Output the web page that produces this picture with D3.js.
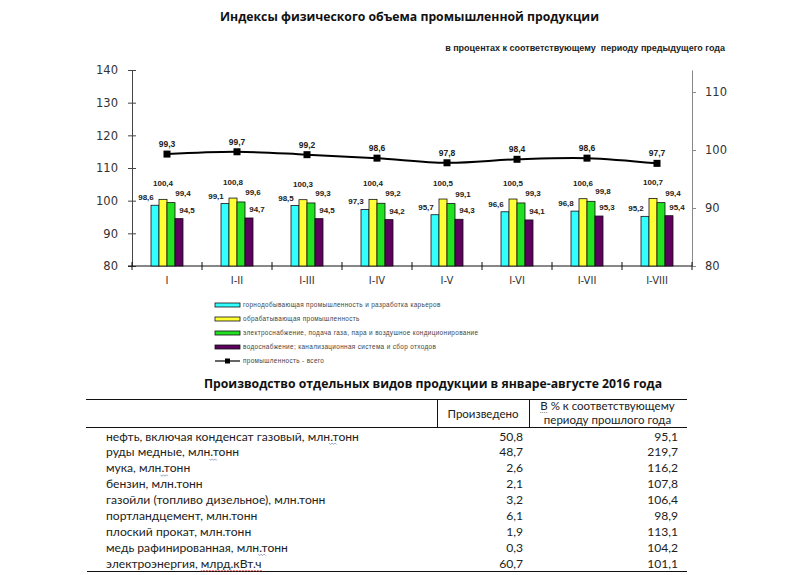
<!DOCTYPE html>
<html><head><meta charset="utf-8">
<script src="https://cdn.jsdelivr.net/npm/d3@7"></script>
<style>body{margin:0;background:#fff}svg{display:block}</style>
</head><body>
<script>
// ---- data ----
const categories = ["I","I-II","I-III","I-IV","I-V","I-VI","I-VII","I-VIII"];
const mining      = [98.6, 99.1, 98.5, 97.3, 95.7, 96.6, 96.8, 95.2];
const manufacturing = [100.4, 100.8, 100.3, 100.4, 100.5, 100.5, 100.6, 100.7];
const energy      = [99.4, 99.6, 99.3, 99.2, 99.1, 99.3, 99.8, 99.4];
const water       = [94.5, 94.7, 94.5, 94.2, 94.3, 94.1, 95.3, 95.4];
const total       = [99.3, 99.7, 99.2, 98.6, 97.8, 98.4, 98.6, 97.7];
const leftTicks = [80, 90, 100, 110, 120, 130, 140];
const rightTicks = [80, 90, 100, 110];
const legendLabels = [
  "горнодобывающая промышленность и разработка карьеров",
  "обрабатывающая промышленность",
  "электроснабжение, подача газа, пара и воздушное кондиционирование",
  "водоснабжение; канализационная система и сбор отходов",
  "промышленность - всего"
];
const products = [
  "нефть, включая конденсат газовый, млн.тонн",
  "руды медные, млн.тонн",
  "мука, млн.тонн",
  "бензин, млн.тонн",
  "газойли (топливо дизельное), млн.тонн",
  "портландцемент, млн.тонн",
  "плоский прокат, млн.тонн",
  "медь рафинированная, млн.тонн",
  "электроэнергия, млрд.кВт.ч"
];
const produced = [50.8, 48.7, 2.6, 2.1, 3.2, 6.1, 1.9, 0.3, 60.7];
const percentPrev = [95.1, 219.7, 116.2, 107.8, 106.4, 98.9, 113.1, 104.2, 101.1];

// ---- styles ----
const barColors = ["#33FFFF", "#FFFF33", "#22E022", "#5E005E"];
const fmt = v => d3.format(".1f")(v).replace(".", ",");

const svg = d3.select("body").append("svg").attr("width", 800).attr("height", 575);
svg.append("rect").attr("width", 800).attr("height", 575).attr("fill", "#fff");

// scale a text's font size so that its rendered width matches a target width
function fitWidth(sel, target) {
  const node = sel.node();
  const cur = parseFloat(sel.style("font-size"));
  const w = node.getComputedTextLength();
  if (w > 0) sel.style("font-size", (cur * target / w).toFixed(2) + "px");
  return cur * target / w;
}

const t1 = svg.append("text").attr("x", 409.5).attr("y", 21).attr("text-anchor", "middle")
  .style("font-family", "'Open Sans'").style("font-weight", "bold").style("font-size", "12.4px")
  .attr("fill", "#111").text("Индексы физического объема промышленной продукции");
fitWidth(t1, 379);
const st = svg.append("text").attr("x", 725).attr("y", 51).attr("text-anchor", "end")
  .style("font-family", "'Liberation Sans'").style("font-weight", "bold").style("font-size", "9px")
  .style("white-space", "pre").attr("fill", "#222")
  .text("в процентах к соответствующему  периоду предыдущего года");
fitWidth(st, 280);

// ---- scales ----
const x = d3.scaleBand().domain(categories).range([132, 692]);
const yL = d3.scaleLinear().domain([80, 140]).range([266, 70]);
const yR = d3.scaleLinear().domain([80, 113.8]).range([266, 70]);
const bw = 8;
const series = [mining, manufacturing, energy, water];
const labelOff = [[-9, -8], [0, -16], [12, -10], [8, -9]];

const axisFont = g => g.selectAll("text").style("font-family", "'DejaVu Sans'").style("font-size", "11.5px").attr("fill", "#333");

// left axis
const gL = svg.append("g").attr("transform", "translate(132,0)")
  .call(d3.axisLeft(yL).tickValues(leftTicks).tickSizeInner(4).tickSizeOuter(0).tickPadding(10));
gL.select(".domain").attr("stroke", "#444");
gL.selectAll(".tick line").attr("stroke", "#444").attr("x2", 4).attr("x1", -4);
axisFont(gL);
// right axis
const gR = svg.append("g").attr("transform", "translate(692,0)")
  .call(d3.axisRight(yR).tickValues(rightTicks).tickSizeInner(4).tickSizeOuter(0).tickPadding(9));
gR.select(".domain").attr("stroke", "#888");
gR.selectAll(".tick line").attr("stroke", "#888");
axisFont(gR);
// x axis
const gX = svg.append("g").attr("transform", "translate(0,266)")
  .call(d3.axisBottom(x).tickSize(0).tickPadding(11));
gX.select(".domain").attr("stroke", "#111").attr("d", "M128,0H692");
gX.selectAll("text").style("font-family", "'DejaVu Sans'").style("font-size", "10px").attr("fill", "#333");
const bounds = categories.map(c => x(c)).concat([x.range()[1]]);
svg.append("g").selectAll("line").data(bounds).join("line")
  .attr("x1", d => d).attr("x2", d => d).attr("y1", 262).attr("y2", 270)
  .attr("stroke", "#111");

// bars
series.forEach((vals, si) => {
  const g = svg.append("g");
  g.selectAll("rect").data(vals).join("rect")
    .attr("x", (d, i) => x(categories[i]) + x.bandwidth() / 2 - 2 * bw + si * bw)
    .attr("y", d => yL(d))
    .attr("width", bw)
    .attr("height", d => yL(80) - yL(d))
    .attr("fill", barColors[si]).attr("stroke", "#111").attr("stroke-width", 0.8);
  g.selectAll("text").data(vals).join("text")
    .attr("x", (d, i) => x(categories[i]) + x.bandwidth() / 2 - 2 * bw + si * bw + bw / 2 + labelOff[si][0])
    .attr("y", d => yL(d) + labelOff[si][1] + 3)
    .attr("text-anchor", "middle")
    .style("font-family", "'Liberation Sans'").style("font-weight", "bold").style("font-size", "8px")
    .attr("fill", "#222").text(d => fmt(d));
});

// line
const cx = (d, i) => x(categories[i]) + x.bandwidth() / 2;
svg.append("path").datum(total)
  .attr("d", d3.line().x(cx).y(d => yR(d)).curve(d3.curveCatmullRom))
  .attr("fill", "none").attr("stroke", "#000").attr("stroke-width", 2);
svg.append("g").selectAll("rect").data(total).join("rect")
  .attr("x", (d, i) => cx(d, i) - 3.5).attr("y", d => yR(d) - 3.5)
  .attr("width", 7).attr("height", 7).attr("fill", "#000");
svg.append("g").selectAll("text").data(total).join("text")
  .attr("x", cx).attr("y", d => yR(d) - 7)
  .attr("text-anchor", "middle")
  .style("font-family", "'Liberation Sans'").style("font-weight", "bold").style("font-size", "8.5px")
  .attr("fill", "#222").text(d => fmt(d));

// legend
const legY = d3.scalePoint().domain(legendLabels).range([305, 361]);
const lg = svg.append("g");
legendLabels.forEach((lab, i) => {
  const yy = legY(lab);
  if (i < 4) {
    lg.append("rect").attr("x", 215).attr("y", yy - 2).attr("width", 25).attr("height", 4)
      .attr("fill", barColors[i]).attr("stroke", "#111").attr("stroke-width", 0.8);
  } else {
    lg.append("line").attr("x1", 215).attr("x2", 240).attr("y1", yy).attr("y2", yy)
      .attr("stroke", "#000").attr("stroke-width", 1.2);
    lg.append("rect").attr("x", 225).attr("y", yy - 2.5).attr("width", 5).attr("height", 5).attr("fill", "#000");
  }
  lg.append("text").attr("x", 243).attr("y", yy + 2.3)
    .style("font-family", "'Liberation Sans'").style("font-size", "6.4px").style("letter-spacing", "0.35px")
    .attr("fill", "#444").text(lab);
});

// ---- table ----
const t2 = svg.append("text").attr("x", 433).attr("y", 388).attr("text-anchor", "middle")
  .style("font-family", "'Open Sans'").style("font-weight", "bold").style("font-size", "12.2px")
  .attr("fill", "#111").text("Производство отдельных видов продукции в январе-августе 2016 года");
fitWidth(t2, 458);
const tl = svg.append("g").attr("stroke", "#111").attr("stroke-width", 1);
tl.append("line").attr("x1", 86).attr("x2", 687).attr("y1", 399.5).attr("y2", 399.5);
tl.append("line").attr("x1", 86).attr("x2", 687).attr("y1", 427.5).attr("y2", 427.5);
tl.append("line").attr("x1", 437.5).attr("x2", 437.5).attr("y1", 399.5).attr("y2", 427.5);
tl.append("line").attr("x1", 529.5).attr("x2", 529.5).attr("y1", 399.5).attr("y2", 427.5);
tl.append("line").attr("x1", 87).attr("x2", 687).attr("y1", 571.5).attr("y2", 571.5);

const tf = (sel, size) => sel.style("font-family", "Lato").style("font-size", (size || 13) + "px").attr("fill", "#222");
const hp = svg.append("text").attr("x", 483).attr("y", 418).attr("text-anchor", "middle").call(tf, 12).text("Произведено");
const hSize = fitWidth(hp, 71);
const h1 = svg.append("text").attr("x", 607.5).attr("y", 410).attr("text-anchor", "middle").call(tf, hSize).text("В % к соответствующему");
svg.append("text").attr("x", 607.5).attr("y", 424).attr("text-anchor", "middle").call(tf, hSize).text("периоду прошлого года");

const rowY = d3.scalePoint().domain(products).range([436, 563]);
const rows = svg.append("g").selectAll("g").data(products).join("g")
  .attr("transform", d => `translate(0,${rowY(d) + 4.5})`);
const labels = rows.append("text").attr("x", 106).call(tf).text(d => d);
const rowSize = fitWidth(d3.select(labels.nodes()[0]), 253);
labels.style("font-size", rowSize.toFixed(2) + "px");
rows.append("text").attr("x", 523).attr("text-anchor", "end").call(tf, rowSize).text((d, i) => fmt(produced[i]));
rows.append("text").attr("x", 678).attr("text-anchor", "end").call(tf, rowSize).text((d, i) => fmt(percentPrev[i]));

// spell-check style squiggles
function squiggle(g, x0, x1, y, color) {
  let p = `M${x0},${y}`;
  for (let xx = x0, k = 0; xx < x1; xx += 1.5, k++) p += `L${xx + 1.5},${y + (k % 2 ? 0 : 1.5)}`;
  g.append("path").attr("d", p).attr("fill", "none").attr("stroke", color).attr("stroke-width", 0.7);
}
{
  const bb = h1.node().getBBox();
  const w = h1.node().getSubStringLength(0, 1);
  svg.append("line").attr("x1", bb.x).attr("x2", bb.x + w).attr("y1", 412.5).attr("y2", 412.5)
    .attr("stroke", "#666").attr("stroke-width", 0.8).attr("stroke-dasharray", "1,1");
}
labels.each(function (d, i) {
  const node = this;
  const g = d3.select(this.parentNode);
  if ([0, 1, 2, 7].includes(i)) {
    const idx = d.indexOf("млн.") + 3;
    const xs = 106 + node.getSubStringLength(0, idx);
    squiggle(g, xs - 1, xs + 6, 2.5, "#6a7fb0");
  }
  if (i === 8) {
    const idx = d.indexOf("млрд");
    const xs = 106 + node.getSubStringLength(0, idx);
    const xe = 106 + node.getComputedTextLength();
    squiggle(g, xs, xe, 2.5, "#e03030");
  }
});
</script>
</body></html>
